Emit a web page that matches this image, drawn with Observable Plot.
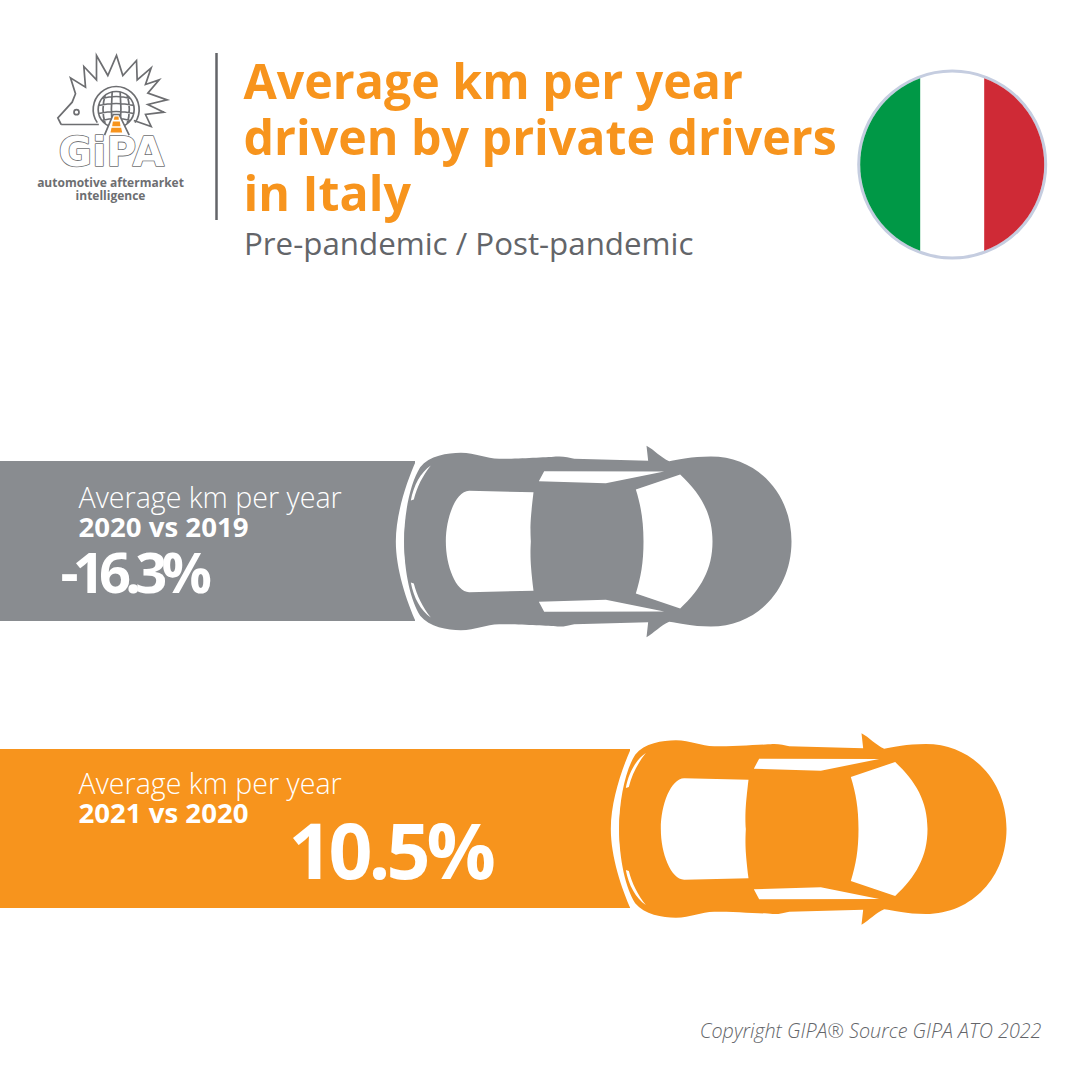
<!DOCTYPE html>
<html><head><meta charset="utf-8">
<script src="https://cdn.jsdelivr.net/npm/d3@7"></script>
<script src="https://cdn.jsdelivr.net/npm/@observablehq/plot@0.6"></script>
<style>
html,body{margin:0;padding:0;background:#fff}
svg{display:block}
</style></head><body><div id="c"></div>
<script>
const titleLines = ["Average km per year","driven by private drivers","in Italy"];
const subtitle = "Pre-pandemic / Post-pandemic";
const periods = ["2020 vs 2019","2021 vs 2020"];
const changes = [-16.3, 10.5];
const changeLabels = ["-16.3%","10.5%"];
const barLengths = [415, 630];
const rowLabel = "Average km per year";
const copyright = "Copyright GIPA® Source GIPA ATO 2022";
const GREY="#898c90", ORANGE="#f7941d", TXT="#636569", LOGO="#6d6e71";

// car drawn in zoom-space units (3x), centred on the axis y=303
const sx = x => (x-14)/3, sy = y => (y-303)/3;
function mirrorPath(ctx, top){
  const run = (f, list) => { for(const s of list){
    if(s.length==2) ctx.lineTo(sx(s[0]), f(s[1]));
    else ctx.bezierCurveTo(sx(s[0]),f(s[1]),sx(s[2]),f(s[3]),sx(s[4]),f(s[5]));
  }};
  const up = y=>sy(y), dn = y=>-sy(y);
  ctx.moveTo(sx(top[0][0]), up(top[0][1]));
  run(up, top.slice(1));
  const pts = top;
  for(let i=pts.length-1;i>0;i--){
    const s=pts[i], pe=pts[i-1].slice(-2);
    if(s.length==2) ctx.lineTo(sx(pe[0]),dn(pe[1]));
    else ctx.bezierCurveTo(sx(s[2]),dn(s[3]),sx(s[0]),dn(s[1]),sx(pe[0]),dn(pe[1]));
  }
  ctx.closePath();
}
const bodyTop = [[10,303],[10,210,30,125,58,80],[85,46,140,37,180,37],[225,37,255,55,295,55],[350,55,440,50,470,48],[490,47,505,52,520,55],[742,61],[737,16],[760,28,780,52,805,62],[835,58,870,48,930,48],[1070,48,1172,160,1172,303]];
const rearWin = [[135,303],[135,230,165,152,205,151],[398,155],[388,240,388,260,390,303]];
const frontWin = [[728,303],[728,240,720,195,705,147],[838,102],[900,160,935,220,935,303]];
const car = {draw(c){mirrorPath(c,bodyTop)}};
const rw = {draw(c){mirrorPath(c,rearWin)}};
const fw = {draw(c){mirrorPath(c,frontWin)}};
const side = {draw(c){
  for(const f of [1,-1]){
    const p=[[430,92],[790,93],[615,128],[414,122]];
    p.forEach((q,i)=> i? c.lineTo(sx(q[0]),f*sy(q[1])) : c.moveTo(sx(q[0]),f*sy(q[1])));
    c.closePath();
    c.moveTo(sx(90),f*sy(75));
    c.bezierCurveTo(sx(60),f*sy(95),sx(38),f*sy(135),sx(30),f*sy(180));
    c.lineTo(sx(39),f*sy(177));
    c.bezierCurveTo(sx(48),f*sy(140),sx(66),f*sy(105),sx(90),f*sy(75));
    c.closePath();
  }
}};
// white swoosh between the bar and the car
const swoosh = {draw(c){
  c.moveTo(sx(46),sy(60));
  c.bezierCurveTo(sx(17),sy(125),sx(-15),sy(220),sx(-15),sy(303));
  c.bezierCurveTo(sx(-15),sy(386),sx(17),sy(481),sx(46),sy(546));
  c.lineTo(sx(78),sy(546));
  c.bezierCurveTo(sx(36),sy(481),sx(10),sy(386),sx(10),sy(303));
  c.bezierCurveTo(sx(10),sy(220),sx(36),sy(125),sx(78),sy(60));
  c.closePath();
}};
// flag
const R=92, dx=32;
const a=Math.acos(dx/R);
const flagL={draw(c){c.arc(0,0,R,Math.PI-a,Math.PI+a);c.closePath()}};
const flagR={draw(c){c.arc(0,0,R,-a,a);c.closePath()}};

// logo, in zoom-space of the logo crop (x/3+30, y/3+40)
const lx=x=>x/3, ly=y=>y/3;
function poly(c,pts,close){pts.forEach((p,i)=> i?c.lineTo(lx(p[0]),ly(p[1])):c.moveTo(lx(p[0]),ly(p[1])));if(close)c.closePath()}
const spikes=[[92,252],[82,232],[125,185],[135,160],[120,112],[165,140],[160,78],[198,118],[198,45],[232,105],[258,45],[277,105],[318,60],[320,118],[362,82],[345,132],[386,118],[352,158],[410,178],[352,192],[400,215],[345,222],[362,258],[310,240]];
const hog={draw(c){poly(c,spikes);c.moveTo(lx(92),ly(252));c.lineTo(lx(205),ly(252))}};
const eye={draw(c){c.moveTo(lx(138)+2.5,ly(215));c.arc(lx(138),ly(215),2.5,0,Math.PI*2)}};
const globe={draw(c){
  const X=lx(257),Y=ly(207),r=18;
  c.moveTo(X+r,Y);c.arc(X,Y,r,0,Math.PI*2);
  const r2=23, t=Math.atan2(16,r2);
  c.moveTo(X+r2*Math.cos(t),Y+r2*Math.sin(t));c.arc(X,Y,r2,t,Math.PI-t,true);
  for(const k of [-11,-4,4,11]){const w=Math.sqrt(r*r-k*k);c.moveTo(X-w,Y+k);c.quadraticCurveTo(X,Y+k-4,X+w,Y+k)}
  for(const k of [-11,-4,4,11]){const h=Math.sqrt(r*r-k*k);c.moveTo(X+k,Y-h);c.quadraticCurveTo(X+k*1.4,Y,X+k,Y+h)}
}};
const road={draw(c){poly(c,[[222,284],[248,222],[266,222],[296,284]])}};
const cone={draw(c){poly(c,[[252,228],[264,228],[265,238],[250,238]],true);poly(c,[[247,243],[268,243],[270,257],[245,257]],true);poly(c,[[243,262],[272,262],[275,276],[240,276]],true)}};

const rows = periods.map((p,i)=>({period:p,change:changes[i],label:changeLabels[i],bar:barLengths[i],
  top:[461,749][i],bottom:[621,908][i],carX:[405,620][i],carY:[541,828.5][i],
  bigX:[60,288][i],bigY:[592,878][i],bigSize:[56,77][i],fill:[GREY,ORANGE][i]}));
const at=(x,y)=>[{x,y}];
const dec=(sym,rows,fill,extra={})=>Plot.dot(rows,{x:"carX",y:"carY",r:1,symbol:sym,fill,stroke:null,...extra});
const txt=(s,x,y,o)=>Plot.text([s],{x:()=>x,y:()=>y,text:d=>d,textAnchor:"start",lineAnchor:"bottom",fontFamily:"Open Sans",...o});
const logoDot=(sym,o)=>Plot.dot(at(30,40),{x:"x",y:"y",r:1,symbol:sym,fill:"none",stroke:LOGO,strokeWidth:1.7,...o});

const chart = Plot.plot({
  width:1080,height:1080,margin:0,
  style:{background:"#fff",overflow:"visible"},
  x:{domain:[0,1080],range:[0,1080],axis:null},
  y:{domain:[0,1080],range:[0,1080],axis:null},
  marks:[
    Plot.rect(rows,{x1:0,x2:"bar",y1:"top",y2:"bottom",fill:"fill"}),
    dec(swoosh,rows,"#fff"),
    ...rows.map(r=>dec(car,[r],r.fill)),
    dec(rw,rows,"#fff"),dec(fw,rows,"#fff"),dec(side,rows,"#fff"),
    Plot.ruleX([216],{y1:53,y2:220,stroke:TXT,strokeWidth:2.5}),
    ...titleLines.map((t,i)=>txt(t,243,[98,154,210][i],{fontSize:48.3,fontWeight:700,fill:ORANGE})),
    txt(subtitle,243.5,254,{fontSize:31.3,fill:TXT}),
    Plot.dot(at(951.7,164),{x:"x",y:"y",r:93.5,fill:"#fff",stroke:"#c5cde0",strokeWidth:3}),
    Plot.dot(at(951.7,164),{x:"x",y:"y",r:1,symbol:flagL,fill:"#009846"}),
    Plot.dot(at(951.7,164),{x:"x",y:"y",r:1,symbol:flagR,fill:"#cf2a36"}),
    ...rows.flatMap((r,i)=>[
      txt(rowLabel,78,[507,793][i],{fontSize:28.6,fontWeight:300,fill:"#fff"}),
      txt(r.period,78,[536,822][i],{fontSize:27.6,fontWeight:700,fill:"#fff"}),
      txt(r.label,r.bigX,r.bigY,{fontSize:r.bigSize,fontWeight:700,fill:"#fff"})
    ]),
    txt(copyright,1041,1037,{fontSize:19.75,fontStyle:"italic",fontWeight:300,fill:TXT,textAnchor:"end"}),
    logoDot(hog),logoDot(eye),logoDot(globe),logoDot(road,{fill:"#fff"}),logoDot(cone,{fill:ORANGE,stroke:null}),
    txt("GiPA",58,165,{fontSize:41,fontWeight:700,fontFamily:"DejaVu Sans",fill:"#fff",stroke:LOGO,strokeWidth:1.6}),
    txt("automotive aftermarket",110,186,{fontSize:12,fontWeight:700,fill:LOGO,textAnchor:"middle"}),
    txt("intelligence",110,199,{fontSize:12,fontWeight:700,fill:LOGO,textAnchor:"middle"})
  ]
});
// tight tracking of the two big percentages
chart.querySelectorAll("text").forEach(t=>{
  const s=t.textContent;
  if(s===changeLabels[0]) t.style.letterSpacing="-5.8px";
  if(s===changeLabels[1]) t.style.letterSpacing="-4px";
});
document.getElementById("c").appendChild(chart);
</script></body></html>
